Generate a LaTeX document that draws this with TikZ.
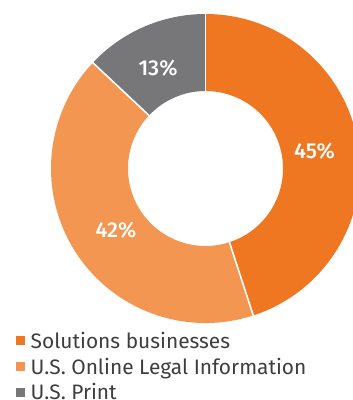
\documentclass[tikz,border=0pt]{standalone}
\usepackage{fontspec}
\setmainfont{Fira Sans}
\newfontfamily\medfont{Fira Sans Medium}
\usetikzlibrary{calc}
\definecolor{solc}{HTML}{EF7722}
\definecolor{onlc}{HTML}{F39651}
\definecolor{prc}{HTML}{77777A}
\definecolor{txtc}{HTML}{3E3E40}
\begin{document}
\begin{tikzpicture}[x=1pt,y=1pt,
  pct/.style={text=white,font=\medfont\fontsize{21.6}{24}\selectfont,inner sep=0pt,anchor=base},
  legtxt/.style={text=txtc,font=\fontsize{20.9}{24}\selectfont,inner sep=0pt,anchor=base west},
  legsq/.style={minimum size=9pt,inner sep=0pt,draw=none},
  sep/.style={draw=white,line width=1.6pt}]
\useasboundingbox (0,0) rectangle (353,400);
\clip (0,0) rectangle (353,400);
\coordinate (C) at (205.5,231.5);
\def\Ro{154.5}
\def\Ri{77.5}
% slices
\fill[solc] ($(C)+(90:\Ro)$) arc[start angle=90,end angle=-72,radius=\Ro] -- ($(C)+(-72:\Ri)$) arc[start angle=-72,end angle=90,radius=\Ri] -- cycle;
\fill[onlc] ($(C)+(-72:\Ro)$) arc[start angle=-72,end angle=-223.2,radius=\Ro] -- ($(C)+(-223.2:\Ri)$) arc[start angle=-223.2,end angle=-72,radius=\Ri] -- cycle;
\fill[prc] ($(C)+(136.8:\Ro)$) arc[start angle=136.8,end angle=90,radius=\Ro] -- ($(C)+(90:\Ri)$) arc[start angle=90,end angle=136.8,radius=\Ri] -- cycle;
% separators
\draw[sep] ($(C)+(90:\Ri)$) -- ($(C)+(90:\Ro+2)$);
\draw[sep] ($(C)+(-72:\Ri)$) -- ($(C)+(-72:\Ro+2)$);
\draw[sep] ($(C)+(136.8:\Ri)$) -- ($(C)+(136.8:\Ro+2)$);
% labels
\node[pct] (p45) at (314.5,241.5) {45\%};
\node[pct] (p13) at (158,324) {13\%};
\node[pct] (p42) at (116,162.7) {42\%};
% legend
\node[legsq,fill=solc] (s1) at (20.5,59) {};
\node[legsq,fill=onlc] (s2) at (20.5,33) {};
\node[legsq,fill=prc] (s3) at (20.5,7.5) {};
\node[legtxt] (t1) at (30.5,51.7) {Solutions businesses};
\node[legtxt] (t2) at (30.5,25.9) {U.S. Online Legal Information};
\node[legtxt] (t3) at (30.5,0.8) {U.S. Print};
\end{tikzpicture}
\end{document}
